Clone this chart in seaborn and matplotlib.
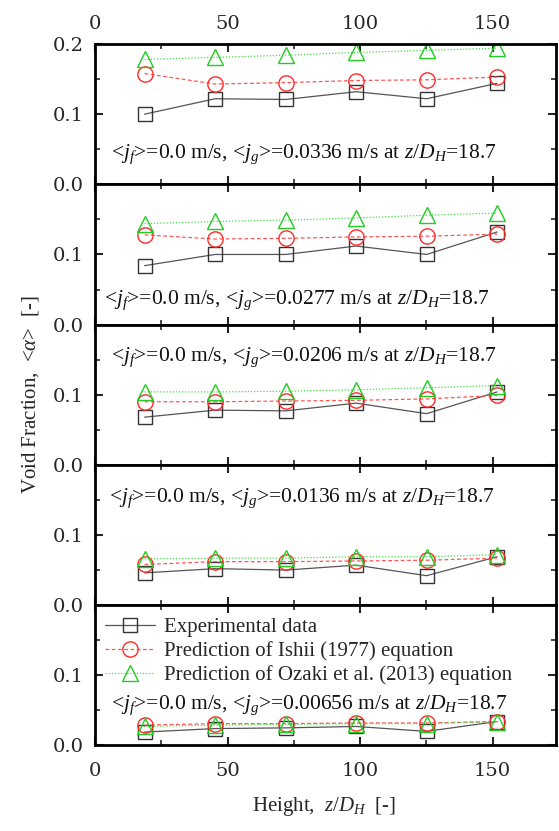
import numpy as np
import pandas as pd
import matplotlib
matplotlib.use("Agg")
import matplotlib.pyplot as plt
from matplotlib.ticker import MultipleLocator
import seaborn as sns

# DATA
height = [18.7, 45.3, 72.0, 98.5, 125.1, 151.7]  # z/D_H
jgList = ["0.0336", "0.0277", "0.0206", "0.0136", "0.00656"]

expList = [
    [0.100, 0.122, 0.121, 0.132, 0.122, 0.144],
    [0.084, 0.100, 0.100, 0.112, 0.100, 0.132],
    [0.068, 0.078, 0.077, 0.088, 0.073, 0.104],
    [0.046, 0.052, 0.050, 0.057, 0.042, 0.069],
    [0.019, 0.024, 0.025, 0.027, 0.020, 0.034],
]
ishiiList = [
    [0.158, 0.143, 0.145, 0.148, 0.149, 0.153],
    [0.128, 0.122, 0.123, 0.125, 0.126, 0.129],
    [0.090, 0.090, 0.091, 0.092, 0.094, 0.099],
    [0.058, 0.062, 0.062, 0.063, 0.064, 0.067],
    [0.029, 0.031, 0.031, 0.032, 0.032, 0.034],
]
ozakiList = [
    [0.178, 0.181, 0.184, 0.188, 0.191, 0.194],
    [0.144, 0.147, 0.149, 0.152, 0.156, 0.159],
    [0.104, 0.104, 0.105, 0.107, 0.110, 0.113],
    [0.066, 0.067, 0.067, 0.069, 0.069, 0.072],
    [0.027, 0.029, 0.030, 0.031, 0.031, 0.034],
]

# where the condition text sits in each panel (axes fraction)
textPos = [(0.035, 0.185), (0.02, 0.15), (0.035, 0.74), (0.03, 0.735), (0.035, 0.26)]

sns.set_theme(style="ticks")
plt.rcParams['font.family'] = ['Liberation Serif', 'DejaVu Serif']
plt.rcParams['mathtext.fontset'] = 'custom'
plt.rcParams['mathtext.rm'] = 'Liberation Serif'
plt.rcParams['mathtext.it'] = 'Liberation Serif:italic'

fig, axes = plt.subplots(5, 1, figsize=(5.59, 8.31), dpi=100, sharex=True)
fig.subplots_adjust(left=0.17, right=0.995, top=0.947, bottom=0.103, hspace=0)

tickFont = {'family': 'DejaVu Serif', 'size': 14}

for k, ax in enumerate(axes):
    df = pd.DataFrame({'h': height, 'exp': expList[k], 'ishii': ishiiList[k], 'ozaki': ozakiList[k]})

    sns.lineplot(data=df, x='h', y='exp', ax=ax, color='#555555', lw=0.9,
                 marker='s', markersize=10, mfc='none', mec='#333333', mew=1.0,
                 label='Experimental data')
    sns.lineplot(data=df, x='h', y='ishii', ax=ax, color='#ff5555', lw=0.9, linestyle=(0, (3, 2)),
                 marker='o', markersize=11, mfc='none', mec='#ff2a2a', mew=1.0,
                 label='Prediction of Ishii (1977) equation')
    sns.lineplot(data=df, x='h', y='ozaki', ax=ax, color='#44dd44', lw=0.9, linestyle=(0, (1, 1.5)),
                 marker='^', markersize=12, mfc='none', mec='#22cc22', mew=1.0,
                 label='Prediction of Ozaki et al. (2013) equation')

    if ax.get_legend() is not None:
        ax.get_legend().remove()

    ax.set_xlim(0, 174)
    ax.set_ylim(0, 0.2)
    ax.set_xlabel('')
    ax.set_ylabel('')
    ax.xaxis.set_major_locator(MultipleLocator(50))
    ax.xaxis.set_minor_locator(MultipleLocator(25))
    ax.yaxis.set_major_locator(MultipleLocator(0.1))
    ax.yaxis.set_minor_locator(MultipleLocator(0.05))
    ax.tick_params(which='both', direction='in', top=True, right=True, bottom=True, left=True)
    ax.tick_params(which='major', length=6, width=1.5)
    ax.tick_params(which='minor', length=3.5, width=1.2)
    ax.tick_params(axis='y', pad=8)
    ax.tick_params(axis='x', pad=12)
    for s in ax.spines.values():
        s.set_linewidth(2)
        s.set_color('black')

    ax.set_yticks([0.0, 0.1, 0.2] if k == 0 else [0.0, 0.1])
    ax.set_yticklabels(['0.0', '0.1', '0.2'] if k == 0 else ['0.0', '0.1'], fontdict=tickFont)

    txt = (r'<$\mathit{j_f}$>=0.0 m/s, <$\mathit{j_g}$>=' + jgList[k] +
           r' m/s at $\mathit{z/D_H}$=18.7')
    ax.text(textPos[k][0], textPos[k][1], txt, transform=ax.transAxes, fontsize=15.5,
            color='#111111', va='baseline', ha='left')

axes[-1].set_xticks([0, 50, 100, 150])
axes[-1].set_xticklabels(['0', '50', '100', '150'], fontdict=tickFont)
axes[0].xaxis.set_tick_params(labeltop=True, labelsize=14, pad=8)
for lab in axes[0].xaxis.get_ticklabels():
    lab.set_family('DejaVu Serif')

axes[-1].legend(loc='upper left', frameon=False, fontsize=15, handlelength=2.4,
                borderaxespad=0.2, labelspacing=0.2, handletextpad=0.4,
                bbox_to_anchor=(-0.005, 1.0))

fig.text(0.055, 0.525, r'Void Fraction,  <$\mathit{\alpha}$>  [-]', rotation=90,
         ha='center', va='center', fontsize=15)
fig.text(0.58, 0.03, r'Height,  $\mathit{z/D_H}$  [-]', ha='center', va='center', fontsize=15)

fig.savefig('out.png', dpi=100)
